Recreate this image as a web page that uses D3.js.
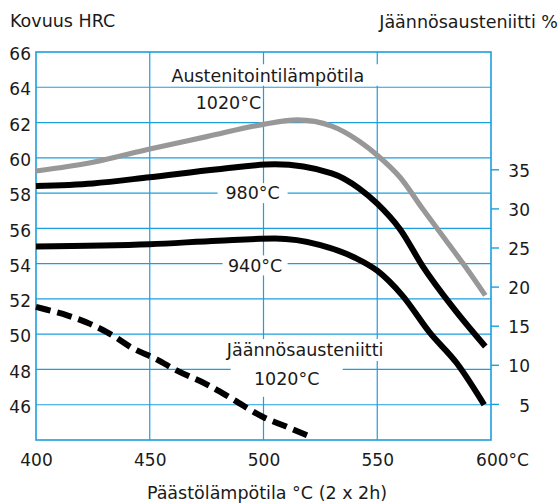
<!DOCTYPE html>
<html>
<head>
<meta charset="utf-8">
<script src="https://cdn.jsdelivr.net/npm/d3@7"></script>
<style>
  html, body { margin: 0; padding: 0; background: #fff; }
  svg { display: block; font-family: "DejaVu Sans", sans-serif; }
</style>
</head>
<body>
<svg id="chart" width="560" height="504"></svg>
<script>
// Tempering temperature (°C) and hardness (HRC) per austenitizing temperature
const temps1020 = [400, 425, 450, 475, 500, 515, 530, 542, 550, 560, 570, 580, 590, 597.5];
const hrc1020   = [59.25, 59.75, 60.5, 61.2, 61.9, 62.15, 61.8, 60.95, 60.15, 58.9, 57.1, 55.35, 53.6, 52.2];

const temps980 = [400, 425, 450, 480, 505, 530, 542, 550, 560, 570, 583, 597.5];
const hrc980   = [58.4, 58.55, 58.9, 59.35, 59.63, 59.12, 58.27, 57.4, 55.95, 53.85, 51.56, 49.3];

const temps940 = [400, 450, 480, 505, 525, 540, 550, 561, 573, 585, 597];
const hrc940   = [54.97, 55.1, 55.3, 55.42, 55.05, 54.35, 53.6, 52.2, 50.1, 48.35, 46.0];

// Retained austenite (%) after austenitizing at 1020 °C
const tempsRA = [400, 404, 414, 424, 434, 442, 453, 462, 475, 486.5, 500, 510, 521.5];
const retainedRA = [17.4, 17.1, 16.3, 15.2, 13.7, 12.2, 10.7, 9.25, 7.5, 5.6, 3.3, 2.1, 0.7];

// Axis ticks
const xTicks = [400, 450, 500, 550, 600];
const hrcTicks = [46, 48, 50, 52, 54, 56, 58, 60, 62, 64, 66];
const raTicks = [5, 10, 15, 20, 25, 30, 35];
const vGrid = [450, 500, 550];

const BLUE = "#1b9fdf";
const TEXT = "#1a1a1a";

const svg = d3.select("#chart");

const x = d3.scaleLinear().domain([400, 600]).range([36, 491]);
const yL = d3.scaleLinear().domain([44, 66]).range([440, 52]);
const yR = d3.scaleLinear().domain([0, 50]).range([443, 52]);

// Grid
const grid = svg.append("g");
grid.selectAll("line.h").data(hrcTicks.filter(d => d < 66)).join("line")
  .attr("x1", x(400)).attr("x2", x(600))
  .attr("y1", d => yL(d)).attr("y2", d => yL(d))
  .attr("stroke", BLUE).attr("stroke-width", 1.2);
grid.selectAll("line.v").data(vGrid).join("line")
  .attr("x1", d => x(d)).attr("x2", d => x(d))
  .attr("y1", yL(66)).attr("y2", yL(44))
  .attr("stroke", BLUE).attr("stroke-width", 1.2);
grid.append("rect")
  .attr("x", x(400)).attr("y", yL(66))
  .attr("width", x(600) - x(400)).attr("height", yL(44) - yL(66))
  .attr("fill", "none").attr("stroke", BLUE).attr("stroke-width", 1.6);

// Annotations: white plates hide the grid behind the text
const notes = [
  { text: "Austenitointilämpötila", t: 501.9, v: 64.64, w: 221, h: 21.5, dy: -1 },
  { text: "1020°C", t: 484.6, v: 63.1, w: 0, h: 0, dy: 0 },
  { text: "980°C", t: 495.2, v: 58.0, w: 70, h: 20, dy: 0 },
  { text: "940°C", t: 496.3, v: 53.9, w: 65, h: 20, dy: 0 },
  { text: "Jäännösausteniitti", t: 518.3, v: 49.1, w: 168, h: 22, dy: 0 },
  { text: "1020°C", t: 510.2, v: 47.5, w: 112, h: 37, dy: 0 }
];
const noteG = svg.append("g");
notes.forEach(n => {
  const cx = x(n.t), cy = yL(n.v);
  if (n.w > 0) {
    noteG.append("rect")
      .attr("x", cx - n.w / 2).attr("y", cy - n.h / 2 + n.dy)
      .attr("width", n.w).attr("height", n.h)
      .attr("fill", "#fff");
  }
});

// Curves
const line = (xs, ys, yScale) => d3.line()
  .x((d, i) => x(xs[i]))
  .y(d => yScale(d))
  .curve(d3.curveMonotoneX)(ys);

svg.append("path").attr("d", line(temps1020, hrc1020, yL))
  .attr("fill", "none").attr("stroke", "#989898").attr("stroke-width", 5.2);
svg.append("path").attr("d", line(temps980, hrc980, yL))
  .attr("fill", "none").attr("stroke", "#000").attr("stroke-width", 6);
svg.append("path").attr("d", line(temps940, hrc940, yL))
  .attr("fill", "none").attr("stroke", "#000").attr("stroke-width", 6);
svg.append("path").attr("d", line(tempsRA, retainedRA, yR))
  .attr("fill", "none").attr("stroke", "#000").attr("stroke-width", 6)
  .attr("stroke-dasharray", "15 7");

// Annotation text
notes.forEach(n => {
  noteG.append("text")
    .attr("x", x(n.t)).attr("y", yL(n.v))
    .attr("dy", "0.36em")
    .attr("text-anchor", "middle")
    .attr("font-size", 17.5)
    .attr("fill", TEXT)
    .text(n.text);
});
svg.node().appendChild(noteG.node());

// Left axis (hardness)
const axL = svg.append("g").attr("transform", `translate(${x(400)},0)`)
  .call(d3.axisLeft(yL).tickValues(hrcTicks).tickSize(0).tickPadding(5));
axL.select(".domain").remove();
axL.selectAll("text").attr("font-size", 17).attr("font-family", "DejaVu Sans")
  .attr("fill", TEXT).attr("dy", "0.45em");

// Right axis (retained austenite)
const axR = svg.append("g").attr("transform", `translate(${x(600)},0)`)
  .call(d3.axisRight(yR).tickValues(raTicks).tickSize(8).tickPadding(4));
axR.select(".domain").remove();
axR.selectAll("line").attr("stroke", BLUE).attr("stroke-width", 1.4);
axR.selectAll("text").attr("font-size", 17).attr("font-family", "DejaVu Sans")
  .attr("fill", TEXT).attr("text-anchor", "end").attr("x", 39).attr("dy", "0.42em");

// Bottom axis (tempering temperature)
const axB = svg.append("g").attr("transform", `translate(0,${yL(44)})`)
  .call(d3.axisBottom(x).tickValues(xTicks).tickSize(0).tickPadding(14)
    .tickFormat(d => d === 600 ? "600°C" : String(d)));
axB.select(".domain").remove();
axB.selectAll("text").attr("font-size", 17).attr("font-family", "DejaVu Sans")
  .attr("fill", TEXT)
  .attr("dx", d => d === 600 ? 11 : 0);

// Titles
svg.append("text").attr("x", 10).attr("y", 27)
  .attr("font-size", 17.5).attr("fill", TEXT).text("Kovuus HRC");
svg.append("text").attr("x", 558).attr("y", 27.5).attr("text-anchor", "end")
  .attr("font-size", 17.5).attr("fill", TEXT).text("Jäännösausteniitti %");
svg.append("text").attr("x", 267).attr("y", 499).attr("text-anchor", "middle")
  .attr("font-size", 17.5).attr("fill", TEXT).text("Päästölämpötila °C (2 x 2h)");
</script>
</body>
</html>
